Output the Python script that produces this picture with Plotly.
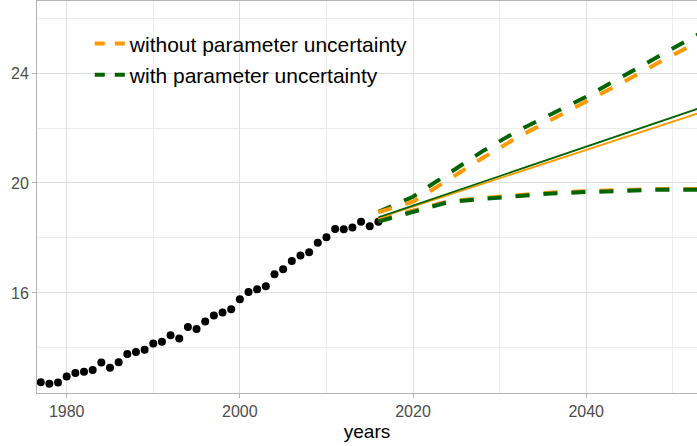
import plotly.graph_objects as go

# observed data
years = list(range(1977, 2017))
values = [12.75, 12.70, 12.74, 12.96, 13.09, 13.13, 13.20, 13.47, 13.28, 13.48,
          13.78, 13.85, 13.93, 14.16, 14.22, 14.46, 14.34, 14.76, 14.69, 14.96,
          15.18, 15.29, 15.41, 15.77, 16.03, 16.13, 16.24, 16.68, 16.86, 17.16,
          17.36, 17.48, 17.83, 18.03, 18.33, 18.32, 18.38, 18.59, 18.43, 18.59]

# forecasts
fc_years = [2016, 2020, 2024, 2028, 2032, 2036, 2040, 2044, 2048, 2053]
mean_without = [18.73, 19.14, 19.55, 19.97, 20.38, 20.79, 21.20, 21.61, 22.03, 22.54]
upper_without = [18.94, 19.32, 20.10, 20.90, 21.65, 22.30, 22.96, 23.62, 24.32, 25.15]
lower_without = [18.65, 19.00, 19.33, 19.45, 19.55, 19.65, 19.70, 19.75, 19.78, 19.78]
mean_with = [18.75, 19.18, 19.61, 20.03, 20.46, 20.89, 21.32, 21.75, 22.18, 22.71]
upper_with = [18.95, 19.50, 20.32, 21.15, 21.88, 22.52, 23.14, 23.84, 24.54, 25.42]
lower_with = [18.60, 18.96, 19.30, 19.42, 19.52, 19.62, 19.67, 19.72, 19.75, 19.75]

labels = ["without parameter uncertainty", "with parameter uncertainty"]
ORANGE = "#FF9900"
GREEN = "#006400"

x_ticks = [1980, 2000, 2020, 2040]
y_ticks = [16, 20, 24]

fig = go.Figure()

fig.add_trace(go.Scatter(x=years, y=values, mode="markers",
                         marker=dict(color="black", size=8), showlegend=False))

for mean, col in [(mean_without, ORANGE), (mean_with, GREEN)]:
    fig.add_trace(go.Scatter(x=fc_years, y=mean, mode="lines",
                             line=dict(color=col, width=1.8), showlegend=False))

# lower bounds first (orange then green), then upper bounds
fig.add_trace(go.Scatter(x=fc_years, y=lower_without, mode="lines",
                         line=dict(color=ORANGE, width=4, dash="14px,14px"), showlegend=False))
fig.add_trace(go.Scatter(x=fc_years, y=lower_with, mode="lines",
                         line=dict(color=GREEN, width=4, dash="14px,14px"), showlegend=False))
fig.add_trace(go.Scatter(x=fc_years, y=upper_with, mode="lines",
                         line=dict(color=GREEN, width=4, dash="14px,14px"), showlegend=False))
fig.add_trace(go.Scatter(x=fc_years, y=upper_without, mode="lines",
                         line=dict(color=ORANGE, width=4, dash="14px,14px"), showlegend=False))

# legend entries
for lab, col in zip(labels, [ORANGE, GREEN]):
    fig.add_trace(go.Scatter(x=[None], y=[None], mode="lines", name=lab,
                             legendgroup=lab,
                             line=dict(color=col, width=4, dash="10px,10px")))

fig.update_layout(
    width=697, height=446,
    margin=dict(l=37, r=0, t=1, b=53),
    paper_bgcolor="white", plot_bgcolor="white",
    font=dict(family="Liberation Sans, Arial, sans-serif", color="black"),
    legend=dict(x=0.080, y=0.943, xanchor="left", yanchor="top",
                bgcolor="rgba(0,0,0,0)", font=dict(size=21, color="black"),
                tracegroupgap=1, traceorder="grouped"),
    xaxis=dict(range=[1976.57, 2052.8], tickvals=x_ticks, ticktext=[str(v) for v in x_ticks],
               showgrid=True, gridcolor="#dedede", gridwidth=1,
               minor=dict(dtick=10, tick0=1970, showgrid=True, gridcolor="#ececec", gridwidth=0.6),
               showline=True, linecolor="#b3b3b3", linewidth=1, mirror=True,
               ticks="outside", ticklen=4, tickcolor="#b3b3b3",
               tickfont=dict(size=16, color="#4d4d4d"),
               title=dict(text="years", font=dict(size=19, color="black"), standoff=5),
               zeroline=False),
    yaxis=dict(range=[12.36, 26.62], tickvals=y_ticks, ticktext=[str(v) for v in y_ticks],
               showgrid=True, gridcolor="#dedede", gridwidth=1,
               minor=dict(dtick=2, tick0=0, showgrid=True, gridcolor="#ececec", gridwidth=0.6),
               showline=True, linecolor="#b3b3b3", linewidth=1,
               ticks="outside", ticklen=4, tickcolor="#b3b3b3",
               tickfont=dict(size=16, color="#4d4d4d"),
               zeroline=False),
)

fig.write_html("out.html")
